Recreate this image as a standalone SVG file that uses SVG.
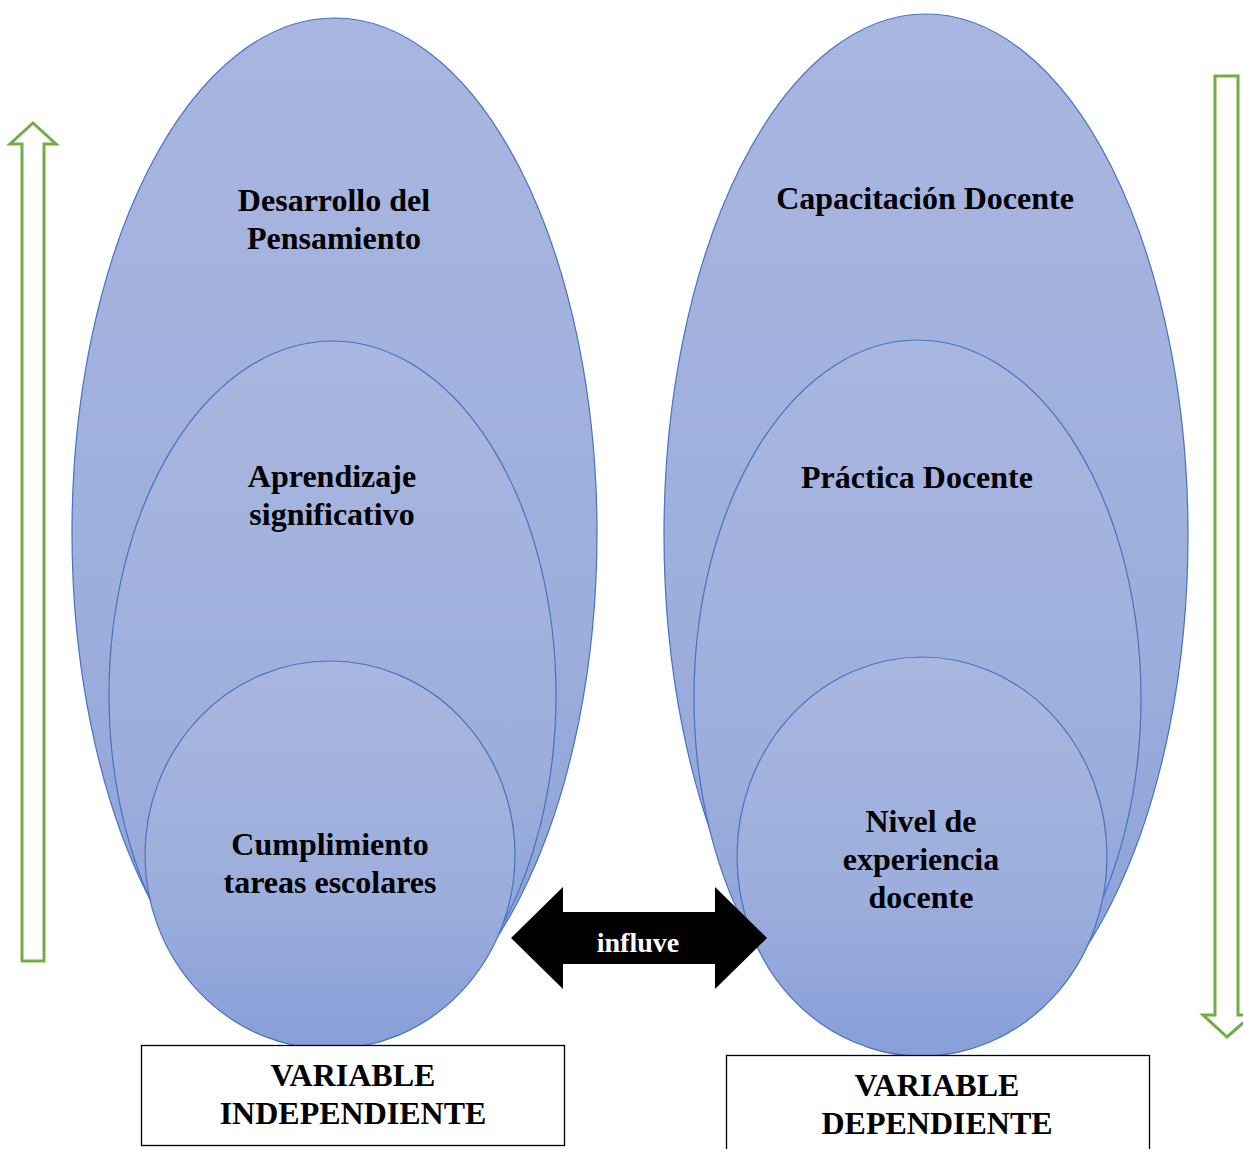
<svg xmlns="http://www.w3.org/2000/svg" width="1243" height="1149" viewBox="0 0 1243 1149">
<defs>
<linearGradient id="g" x1="0" y1="0" x2="0" y2="1">
<stop offset="0" stop-color="#A9B6DF"/>
<stop offset="0.6" stop-color="#9DAEDC"/>
<stop offset="1" stop-color="#879ED8"/>
</linearGradient>
<style>
.ov{fill:url(#g);stroke:#4472C4;stroke-width:1.2}
.t{font-family:"Liberation Serif","Times New Roman",serif;font-weight:bold;font-size:32px;fill:#000;text-anchor:middle}
.box{fill:#fff;stroke:#000;stroke-width:1.3}
.green{fill:#fff;stroke:#70AD47;stroke-width:3}
</style>
</defs>
<rect width="1243" height="1149" fill="#fff"/>
<g id="left-outer"><ellipse class="ov" cx="334.5" cy="533" rx="262.5" ry="515"/><text class="t" x="334" y="211">Desarrollo del</text><text class="t" x="334" y="249">Pensamiento</text></g>
<g id="left-middle"><ellipse class="ov" cx="332.5" cy="695" rx="223.5" ry="354"/><text class="t" x="332" y="487">Aprendizaje</text><text class="t" x="332" y="525">significativo</text></g>
<g id="left-inner"><ellipse class="ov" cx="330" cy="855" rx="185" ry="194"/><text class="t" x="330" y="855">Cumplimiento</text><text class="t" x="330" y="893">tareas escolares</text></g>
<g id="right-outer"><ellipse class="ov" cx="926" cy="535" rx="262" ry="521"/><text class="t" x="925" y="209">Capacitación Docente</text></g>
<g id="right-middle"><ellipse class="ov" cx="917.5" cy="698" rx="223.5" ry="358"/><text class="t" x="917" y="488">Práctica Docente</text></g>
<g id="right-inner"><ellipse class="ov" cx="922" cy="856.5" rx="185" ry="199.5"/><text class="t" x="921" y="832">Nivel de</text><text class="t" x="921" y="870">experiencia</text><text class="t" x="921" y="908">docente</text></g>
<g id="box-independiente"><rect class="box" x="141.5" y="1045.5" width="423" height="100"/><text class="t" x="353" y="1086">VARIABLE</text><text class="t" x="353" y="1124">INDEPENDIENTE</text></g>
<g id="box-dependiente"><rect class="box" x="726.5" y="1055.5" width="423" height="100"/><text class="t" x="937" y="1096">VARIABLE</text><text class="t" x="937" y="1134">DEPENDIENTE</text></g>
<g id="connectors">
<polygon id="influye-arrow" points="511,938 563,887 563,912 715,912 715,887 767,938 715,989 715,964 563,964 563,989" fill="#000"/>
<text x="638" y="952" font-family="Liberation Serif, serif" font-weight="bold" font-size="28" fill="#fff" text-anchor="middle">influve</text>
<polygon id="up-arrow" class="green" points="33,123 56,144 44,144 44,961 22,961 22,144 10,144"/>
<polygon id="down-arrow" class="green" points="1215,76 1238,76 1238,1015 1252,1015 1227,1037 1203,1015 1215,1015"/>
</g>
</svg>
